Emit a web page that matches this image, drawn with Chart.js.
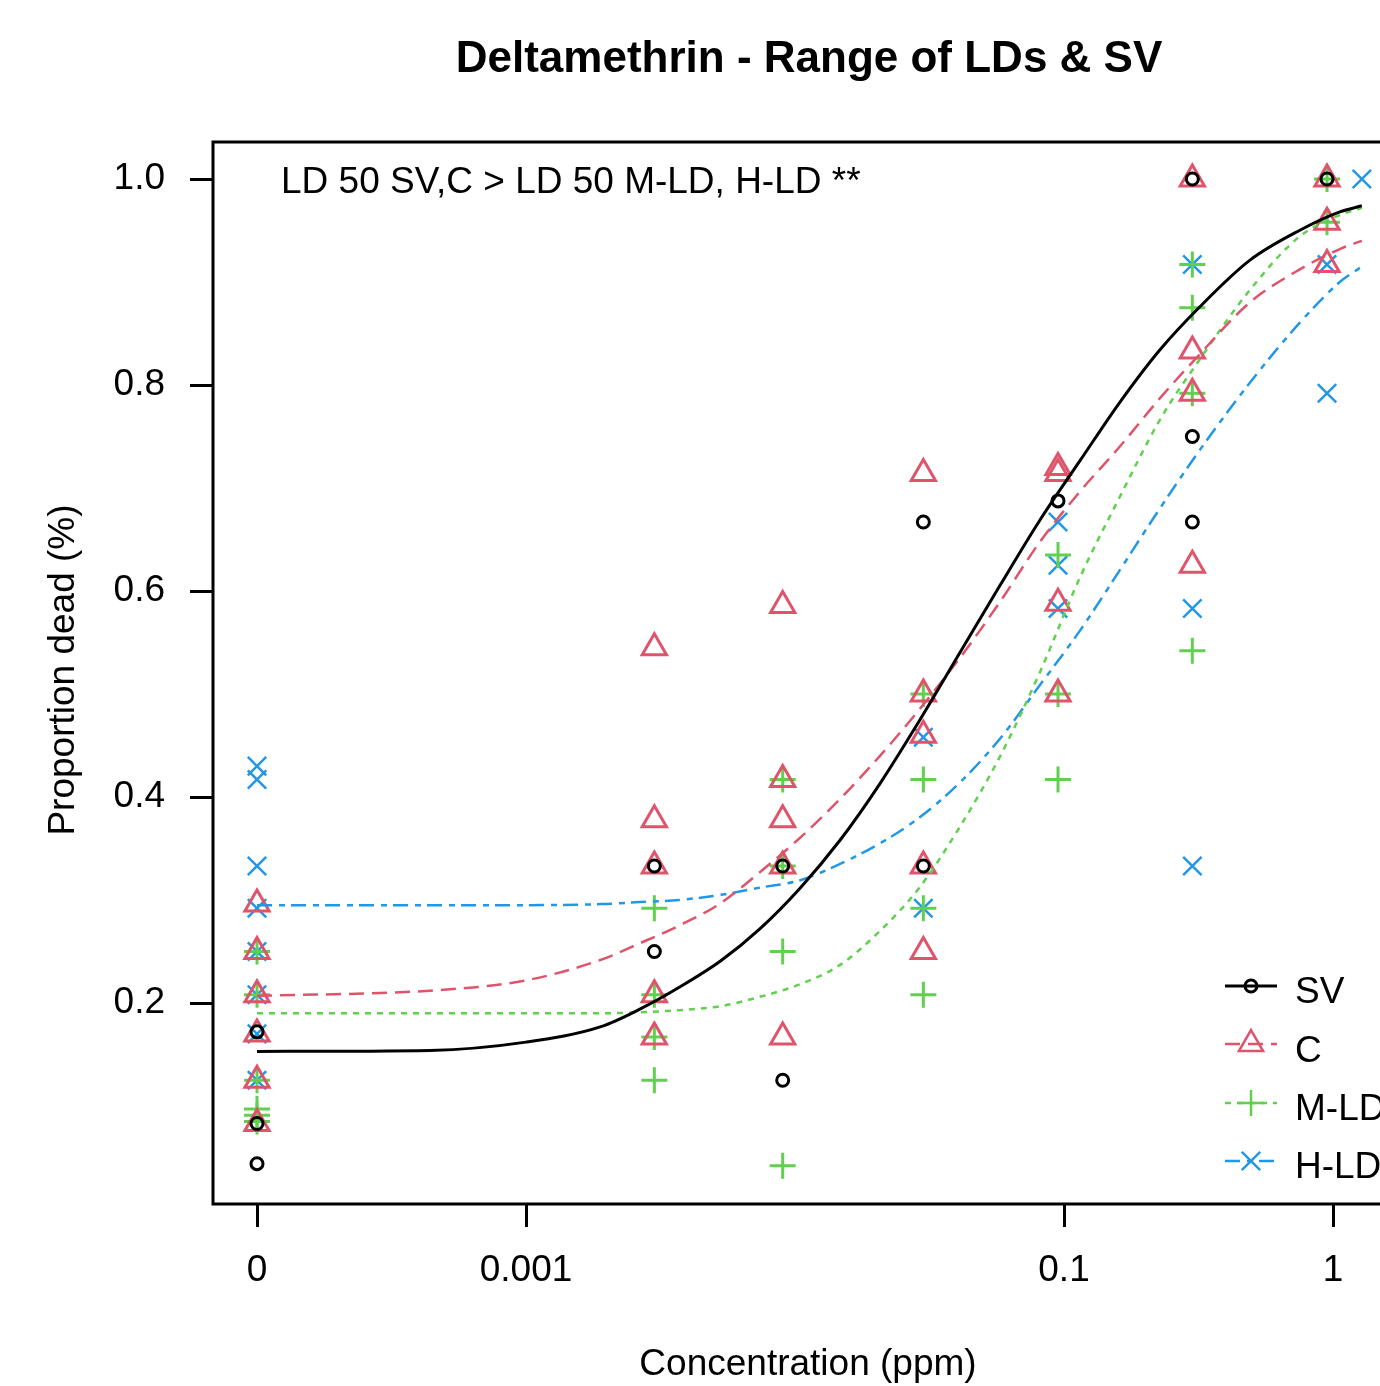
<!DOCTYPE html>
<html>
<head>
<meta charset="utf-8">
<script src="https://cdn.jsdelivr.net/npm/chart.js@4/dist/chart.umd.min.js"></script>
<style>
  html, body { margin: 0; padding: 0; overflow: hidden; background: #fff; }
  #wrap { width: 1380px; height: 1386px; overflow: hidden; }
</style>
</head>
<body>
<div id="wrap"><canvas id="ldChart" width="1440" height="1386"></canvas></div>
<script>
const FONT = '"Liberation Sans", Arial, sans-serif';

const seriesNames = ['SV', 'C', 'M-LD', 'H-LD'];
const seriesColors = ['#000000', '#DF536B', '#61D04F', '#2297E6'];

// observed points (dose in ppm, "0" control plotted at 1e-4)
const svDose = [0.0001, 0.0001, 0.0001, 0.003, 0.003, 0.009, 0.009, 0.03, 0.03, 0.095, 0.3, 0.3, 0.3, 0.95];
const svDead = [0.172, 0.083, 0.044, 0.333, 0.25, 0.333, 0.125, 0.667, 0.333, 0.6875, 1.0, 0.75, 0.667, 1.0];

const cDose = [0.0001, 0.0001, 0.0001, 0.0001, 0.0001, 0.0001,
  0.003, 0.003, 0.003, 0.003, 0.003,
  0.009, 0.009, 0.009, 0.009, 0.009,
  0.03, 0.03, 0.03, 0.03, 0.03,
  0.095, 0.095, 0.095, 0.095,
  0.3, 0.3, 0.3, 0.3,
  0.95, 0.95, 0.95];
const cDead = [0.296, 0.25, 0.208, 0.17, 0.125, 0.083,
  0.545, 0.378, 0.333, 0.208, 0.167,
  0.586, 0.417, 0.378, 0.333, 0.167,
  0.714, 0.5, 0.46, 0.333, 0.25,
  0.72, 0.714, 0.588, 0.5,
  1.0, 0.833, 0.792, 0.625,
  1.0, 0.958, 0.917];

const mDose = [0.0001, 0.0001, 0.0001, 0.0001, 0.0001, 0.0001,
  0.003, 0.003, 0.003, 0.003,
  0.009, 0.009, 0.009, 0.009,
  0.03, 0.03, 0.03, 0.03,
  0.095, 0.095, 0.095,
  0.3, 0.3, 0.3, 0.3,
  0.95, 0.95];
const mDead = [0.25, 0.208, 0.125, 0.097, 0.091, 0.085,
  0.292, 0.208, 0.167, 0.125,
  0.417, 0.333, 0.25, 0.042,
  0.5, 0.417, 0.292, 0.208,
  0.635, 0.5, 0.417,
  0.917, 0.875, 0.792, 0.542,
  1.0, 0.958];

const hDose = [0.0001, 0.0001, 0.0001, 0.0001, 0.0001, 0.0001, 0.0001, 0.0001,
  0.03, 0.03,
  0.095, 0.095, 0.095,
  0.3, 0.3, 0.3,
  0.95, 0.95,
  1.28];
const hDead = [0.43, 0.417, 0.333, 0.292, 0.25, 0.208, 0.17, 0.125,
  0.458, 0.292,
  0.667, 0.625, 0.583,
  0.917, 0.583, 0.333,
  0.917, 0.792,
  1.0];

// fitted curves
const curveDose = [0.0001, 0.00044, 0.001, 0.0019, 0.00265, 0.0037, 0.0053, 0.0074,
  0.0104, 0.0147, 0.0207, 0.029, 0.041, 0.058, 0.081, 0.115, 0.161, 0.227,
  0.32, 0.49, 0.75, 1.06, 1.28];
const svFit = [0.153, 0.154, 0.162, 0.177, 0.194, 0.215, 0.241, 0.272,
  0.311, 0.358, 0.413, 0.474, 0.54, 0.606, 0.668, 0.727, 0.783, 0.834,
  0.876, 0.921, 0.95, 0.968, 0.974];
const cFit = [0.207, 0.212, 0.222, 0.242, 0.258, 0.275, 0.297, 0.327,
  0.36, 0.398, 0.44, 0.485, 0.535, 0.59, 0.647, 0.697, 0.74, 0.787,
  0.83, 0.88, 0.912, 0.932, 0.94];
const mFit = [0.19, 0.19, 0.19, 0.19, 0.191, 0.193, 0.197, 0.206,
  0.218, 0.237, 0.27, 0.312, 0.371, 0.44, 0.52, 0.614, 0.691, 0.766,
  0.825, 0.892, 0.944, 0.965, 0.972];
const hFit = [0.295, 0.295, 0.295, 0.296, 0.298, 0.3, 0.305, 0.312,
  0.319, 0.335, 0.355, 0.38, 0.414, 0.457, 0.508, 0.562, 0.62, 0.68,
  0.737, 0.802, 0.86, 0.9, 0.915];

const xTickValues = [0.0001, 0.001, 0.1, 1];
const yTickValues = [0.2, 0.4, 0.6, 0.8, 1.0];

const pointStyles = ['circle', 'triangle', 'cross', 'crossRot'];
const pointSizes = [6, 14, 13, 13];
const pointWidths = [3, 3, 3, 2.5];
const lineDashes = [[], [15, 8], [6, 6], [15, 7, 6, 6]];
const lineWidths = [3, 2.5, 2.5, 2.5];

const pointSets = [[svDose, svDead], [cDose, cDead], [mDose, mDead], [hDose, hDead]];
const fitSets = [svFit, cFit, mFit, hFit];

const toXY = (xs, ys) => xs.map((x, i) => ({ x, y: ys[i] }));

const fitDatasets = fitSets.map((fit, i) => ({
  label: seriesNames[i] + ' fit',
  data: toXY(curveDose, fit),
  showLine: true,
  borderColor: seriesColors[i],
  borderWidth: lineWidths[i],
  borderDash: lineDashes[i],
  cubicInterpolationMode: 'monotone',
  pointRadius: 0,
  fill: false,
}));

const pointDatasets = pointSets.map(([xs, ys], i) => ({
  label: seriesNames[i],
  data: toXY(xs, ys),
  showLine: false,
  pointStyle: pointStyles[i],
  pointRadius: pointSizes[i],
  pointBorderWidth: pointWidths[i],
  pointBorderColor: seriesColors[i],
  pointBackgroundColor: 'rgba(0,0,0,0)',
}));

/* box, titles, note and R-style legend */
const frameAndText = {
  id: 'frameAndText',
  afterDraw(chart) {
    const { ctx, chartArea: a } = chart;
    ctx.save();
    ctx.strokeStyle = '#000';
    ctx.lineWidth = 3;
    ctx.setLineDash([]);
    ctx.strokeRect(a.left, a.top, a.right - a.left, a.bottom - a.top);

    ctx.fillStyle = '#000';
    ctx.textAlign = 'center';
    ctx.textBaseline = 'alphabetic';
    ctx.font = 'bold 44px ' + FONT;
    ctx.fillText('Deltamethrin - Range of LDs & SV', 809, 72);

    ctx.font = '37px ' + FONT;
    ctx.fillText('Concentration (ppm)', 808, 1375);

    ctx.save();
    ctx.translate(74, 670);
    ctx.rotate(-Math.PI / 2);
    ctx.fillText('Proportion dead (%)', 0, 0);
    ctx.restore();

    ctx.textAlign = 'left';
    ctx.fillText('LD 50 SV,C > LD 50 M-LD, H-LD **', 281, 193);

    const markY = [986, 1044, 1103, 1161];
    const textY = [1003, 1062, 1120, 1178];
    seriesNames.forEach((name, i) => {
      ctx.strokeStyle = seriesColors[i];
      ctx.lineWidth = lineWidths[i];
      ctx.setLineDash(lineDashes[i]);
      ctx.beginPath();
      ctx.moveTo(1225, markY[i]);
      ctx.lineTo(1277, markY[i]);
      ctx.stroke();
      ctx.setLineDash([]);
      ctx.fillStyle = 'rgba(0,0,0,0)';
      Chart.helpers.drawPoint(ctx, {
        pointStyle: pointStyles[i],
        radius: pointSizes[i],
        rotation: 0,
        borderWidth: pointWidths[i],
      }, 1251, markY[i]);
      ctx.fillStyle = '#000';
      ctx.fillText(name, 1295, textY[i]);
    });
    ctx.restore();
  },
};

new Chart(document.getElementById('ldChart'), {
  type: 'scatter',
  data: { datasets: [...fitDatasets, ...pointDatasets] },
  options: {
    responsive: false,
    animation: false,
    devicePixelRatio: 1,
    layout: { padding: { top: 142, right: 35, bottom: 0, left: 0 } },
    plugins: {
      legend: { display: false },
      tooltip: { enabled: false },
    },
    scales: {
      x: {
        type: 'logarithmic',
        min: Math.pow(10, -4 - 44 / 269),
        max: Math.pow(10, (1405 - 257) / 269 - 4),
        afterBuildTicks(scale) {
          scale.ticks = xTickValues.map(value => ({ value }));
        },
        afterFit(scale) {
          scale.height = 182;
        },
        ticks: {
          color: '#000',
          font: { family: FONT, size: 37 },
          padding: 22,
          maxRotation: 0,
          autoSkip: false,
          callback: v => (v === 0.0001 ? '0' : String(v)),
        },
        grid: {
          drawOnChartArea: false,
          drawTicks: true,
          tickLength: 23,
          tickWidth: 3,
          tickColor: '#000',
        },
        border: { display: false },
      },
      y: {
        type: 'linear',
        min: 5 / 1030,
        max: 1067 / 1030,
        afterBuildTicks(scale) {
          scale.ticks = yTickValues.map(value => ({ value }));
        },
        afterFit(scale) {
          scale.width = 213;
        },
        ticks: {
          color: '#000',
          font: { family: FONT, size: 37 },
          padding: 25,
          callback: v => v.toFixed(1),
        },
        grid: {
          drawOnChartArea: false,
          drawTicks: true,
          tickLength: 23,
          tickWidth: 3,
          tickColor: '#000',
        },
        border: { display: false },
      },
    },
  },
  plugins: [frameAndText],
});
</script>
</body>
</html>
